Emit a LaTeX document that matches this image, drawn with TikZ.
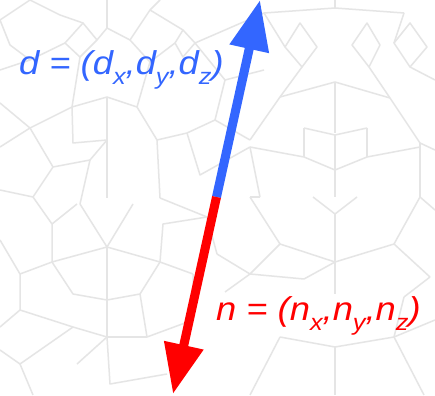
\documentclass[tikz,border=0pt]{standalone}
\usepackage{fontspec}
\setmainfont{Liberation Sans}
\usetikzlibrary{arrows.meta}
\definecolor{dblue}{RGB}{51,102,255}
\definecolor{nred}{RGB}{255,0,0}
\definecolor{tile}{RGB}{229,229,229}
\newcommand\subs[1]{\raisebox{-10pt}{\fontsize{23pt}{23pt}\selectfont #1}}
\tikzset{
  bg/.style={draw=tile, line width=1.5pt, line join=round},
  vec/.style={line width=9pt, -{Triangle[length=50pt,width=38pt]}},
  lbl/.style={anchor=base west, inner sep=0pt, font=\fontsize{33pt}{33pt}\selectfont\itshape}
}
\begin{document}
\begin{tikzpicture}[x=1pt,y=-1pt]
\useasboundingbox (0,0) rectangle (435,395);
\fill[white] (0,0) rectangle (435,395);
% background tiling (approximate)
\draw[bg] (107,0)--(107,28);
\draw[bg] (72,107)--(107,97)--(137,107);
\draw[bg] (107,97)--(107,198);
\draw[bg] (30,128)--(72,107)--(73,143)--(107,140);
\draw[bg] (0,147)--(30,128);
\draw[bg] (30,128)--(53,167)--(90,160)--(107,140);
\draw[bg] (137,107)--(157,140)--(187,133);
\draw[bg] (157,140)--(160,198);
\draw[bg] (65,43)--(83,23)--(97,40)--(80,57)--cycle;
\draw[bg] (175,43)--(183,30)--(195,43)--(183,57)--cycle;
\draw[bg] (0,20)--(30,0);
\draw[bg] (30,60)--(0,70);
\draw[bg] (30,60)--(65,43);
\draw[bg] (97,40)--(107,28)--(130,40)--(150,62)--(175,43);
\draw[bg] (80,57)--(72,107);
\draw[bg] (150,62)--(137,107);
\draw[bg] (0,103)--(30,128);
\draw[bg] (187,133)--(215,120);
\draw[bg] (195,43)--(225,30);
\draw[bg] (53,167)--(33,197);
\draw[bg] (90,160)--(80,204);
\draw[bg] (30,0)--(60,15)--(83,23);
\draw[bg] (0,20)--(10,45)--(30,60);
\draw[bg] (130,40)--(150,10)--(183,30);
\draw[bg] (150,10)--(160,0);
\draw[bg] (215,120)--(250,140);
\draw[bg] (215,120)--(225,80)--(264,70);
\draw[bg] (225,30)--(264,13);
\draw[bg] (225,80)--(195,43);
\draw[bg] (187,133)--(200,175)--(250,147);
\draw[bg] (160,198)--(207,217);
\draw[bg] (0,190)--(33,197);
% Q2
\draw[bg] (335,82)--(335,133);
\draw[bg] (304,128)--(335,135)--(367,128);
\draw[bg] (335,135)--(335,170);
\draw[bg] (280,97)--(335,82)--(390,98);
\draw[bg] (280,97)--(250,140);
\draw[bg] (390,98)--(420,143);
\draw[bg] (285,47)--(300,23)--(317,47)--(302,67)--cycle;
\draw[bg] (352,45)--(367,23)--(380,45)--(369,67)--cycle;
\draw[bg] (394,43)--(410,23)--(427,47)--(410,67)--cycle;
\draw[bg] (335,0)--(335,8);
\draw[bg] (264,13)--(335,8)--(404,13);
\draw[bg] (250,147)--(304,157);
\draw[bg] (304,128)--(304,157);
\draw[bg] (335,170)--(304,157);
\draw[bg] (335,170)--(367,157)--(420,147);
\draw[bg] (367,128)--(367,157);
\draw[bg] (250,147)--(260,197);
\draw[bg] (335,170)--(335,197);
\draw[bg] (302,67)--(280,97);
\draw[bg] (369,67)--(390,98);
\draw[bg] (410,67)--(435,80);
\draw[bg] (420,143)--(435,150);
\draw[bg] (264,13)--(285,47);
\draw[bg] (404,13)--(394,43);
\draw[bg] (420,143)--(420,197);
% Q3
\draw[bg] (52,262)--(107,247)--(160,262);
\draw[bg] (107,247)--(107,300);
\draw[bg] (80,204)--(107,247)--(133,204);
\draw[bg] (20,274)--(52,262)--(52,224)--(33,197);
\draw[bg] (52,224)--(77,204);
\draw[bg] (52,262)--(73,294)--(107,300)--(140,294)--(160,262);
\draw[bg] (20,274)--(20,310)--(73,327)--(107,337);
\draw[bg] (20,310)--(0,327);
\draw[bg] (140,294)--(147,337);
\draw[bg] (107,337)--(147,337);
\draw[bg] (107,300)--(107,337);
\draw[bg] (107,337)--(77,364);
\draw[bg] (20,364)--(73,327);
\draw[bg] (20,364)--(0,350);
\draw[bg] (20,364)--(33,395);
\draw[bg] (107,337)--(110,384)--(167,374);
\draw[bg] (160,262)--(193,274);
\draw[bg] (160,262)--(163,224)--(207,217);
\draw[bg] (0,240)--(20,274);
\draw[bg] (147,337)--(193,320)--(193,274);
\draw[bg] (207,217)--(217,254);
% Q4
\draw[bg] (280,244)--(335,262)--(394,244);
\draw[bg] (335,262)--(335,214);
\draw[bg] (313,197)--(335,214)--(357,197);
\draw[bg] (280,244)--(250,197);
\draw[bg] (280,244)--(250,274);
\draw[bg] (394,244)--(420,197);
\draw[bg] (394,244)--(430,277);
\draw[bg] (250,274)--(304,279)--(335,262);
\draw[bg] (335,262)--(335,294);
\draw[bg] (280,337)--(335,347)--(394,337);
\draw[bg] (335,347)--(335,395);
\draw[bg] (280,337)--(250,395);
\draw[bg] (394,337)--(424,395);
\draw[bg] (217,254)--(250,274);
\draw[bg] (430,277)--(404,297);
\draw[bg] (420,197)--(435,210);
\draw[bg] (404,297)--(394,337);
\draw[bg] (435,320)--(394,337);
\draw[bg] (250,274)--(225,292);
\draw[bg] (260,197)--(250,197);
% vectors
\coordinate (m) at (216.5,197);
\coordinate (dtip) at (260,0);
\coordinate (ntip) at (173,394);
\draw[vec, dblue] (m) -- (dtip);
\draw[vec, nred] (m) -- (ntip);
% labels
\node[lbl, text=dblue] (dlab) at (19,75) {\scalebox{1.1}[1]{d = (d\subs{x},d\subs{y},d\subs{z})}};
\node[lbl, text=nred] (nlab) at (216,320) {\scalebox{1.1}[1]{n = (n\subs{x},n\subs{y},n\subs{z})}};
\end{tikzpicture}
\end{document}
